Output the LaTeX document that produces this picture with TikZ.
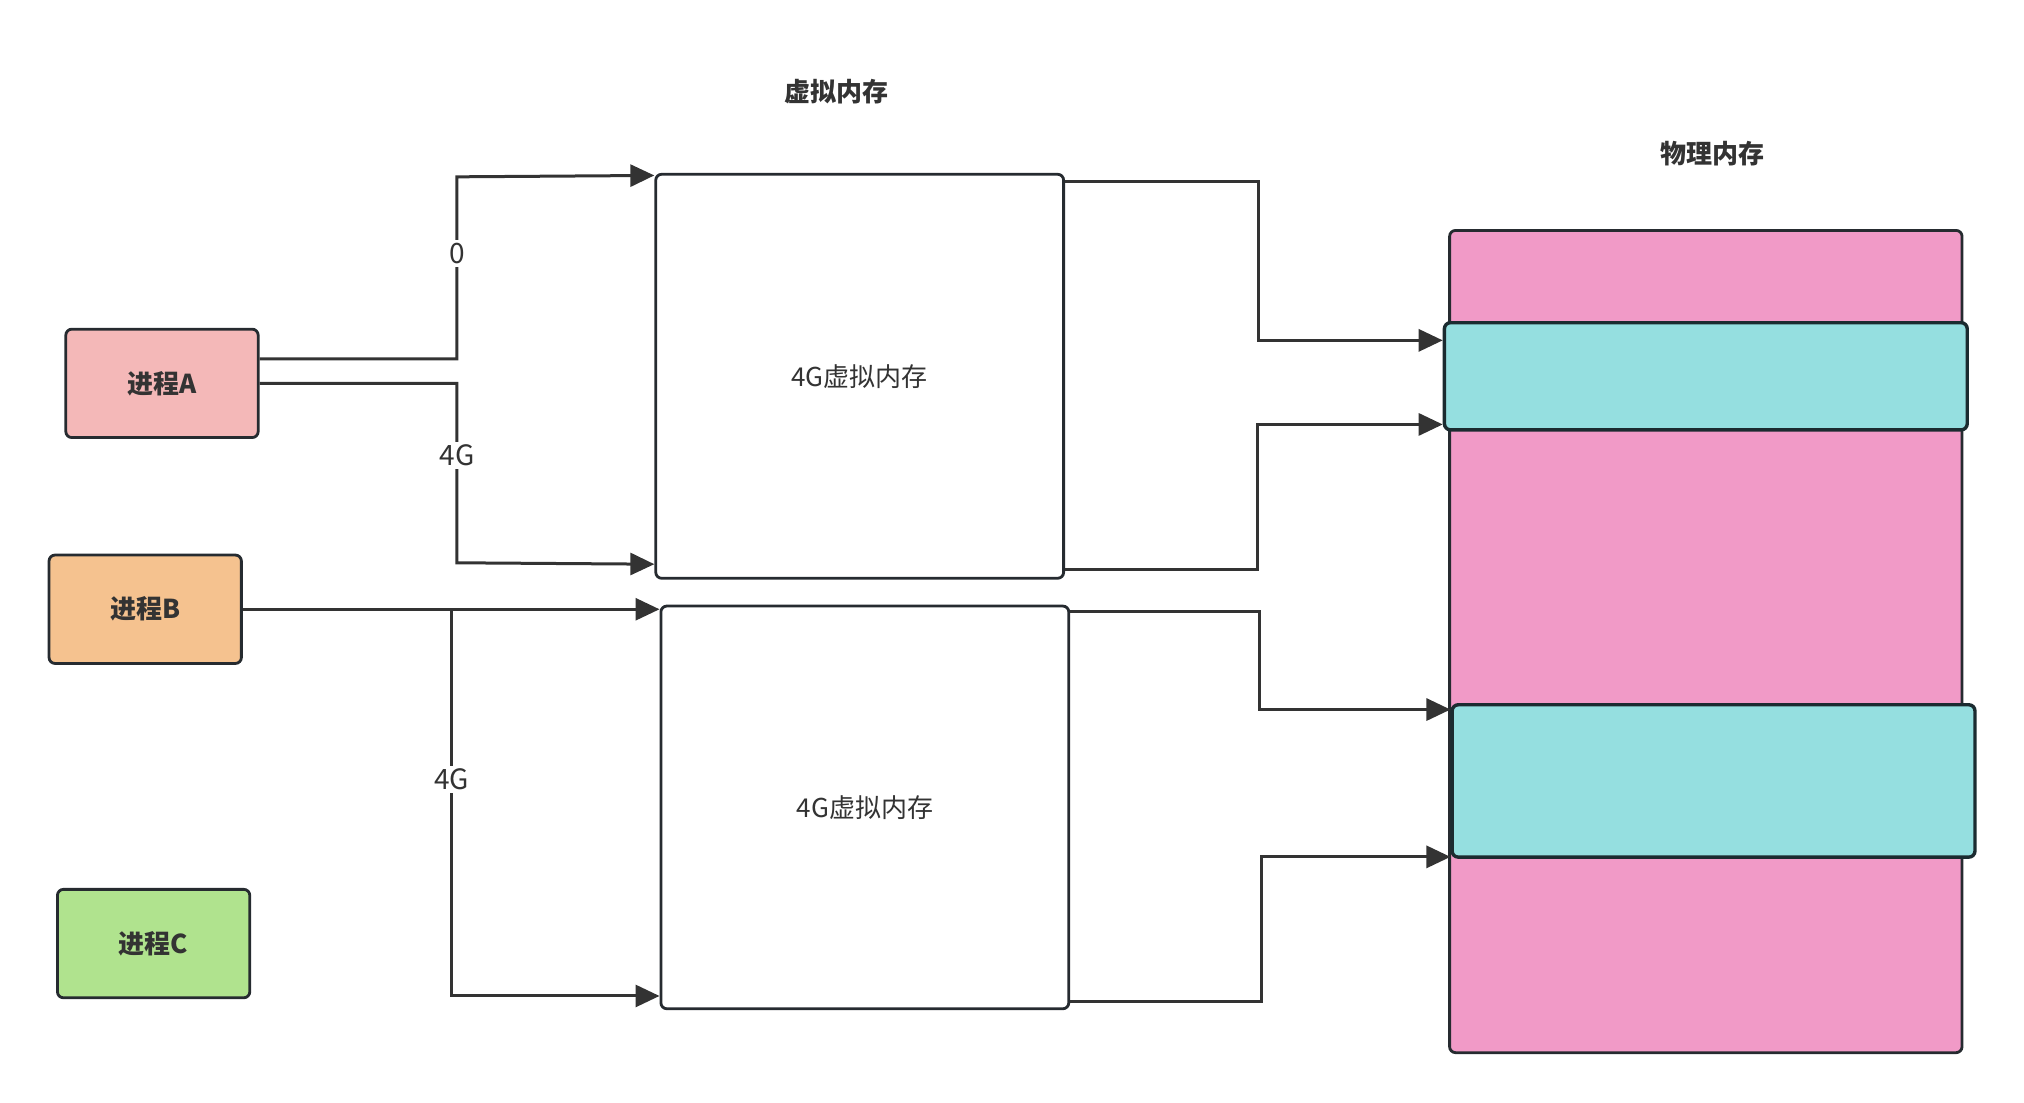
\documentclass[tikz,border=0pt]{standalone}
\usepackage{fontspec}
\setmainfont{Noto Sans CJK SC}
\usetikzlibrary{arrows.meta,positioning}
\newcommand{\unitpx}{0.6454pt}
\newcommand{\labelsize}{\fontsize{13}{15}\selectfont}
\definecolor{linegray}{HTML}{333333}
\definecolor{textgray}{HTML}{333333}
\definecolor{boxline}{HTML}{262B30}
\definecolor{segline}{HTML}{1B2B30}
\definecolor{procpink}{HTML}{F4B8B8}
\definecolor{procorange}{HTML}{F5C28F}
\definecolor{procgreen}{HTML}{B0E38E}
\definecolor{physpink}{HTML}{F19AC7}
\definecolor{segcyan}{HTML}{95DFE0}

\begin{document}
\begin{tikzpicture}[x=\unitpx,y=-\unitpx,font=\labelsize,
	proc/.style={draw=boxline,line width=1.4pt,rounded corners=3pt,minimum width=149*\unitpx,minimum height=84*\unitpx,font=\labelsize\bfseries,text=textgray},
	vmbox/.style={draw=boxline,line width=1.4pt,rounded corners=3pt,fill=white,minimum width=316*\unitpx,minimum height=313*\unitpx,text=textgray},
	segbox/.style={draw=segline,line width=1.7pt,rounded corners=3pt,fill=segcyan,minimum width=405*\unitpx},
	title/.style={font=\labelsize\bfseries,text=textgray},
	link/.style={draw=linegray,line width=1.5pt,-{Triangle[length=12pt,width=11pt]}},
	tag/.style={fill=white,inner sep=1.5pt,text=textgray,font=\fontsize{14}{16}\selectfont}]
	\useasboundingbox (0,0) rectangle (1568,854);

	%processes
	\node[proc,fill=procpink] (procA) at (125.5,297) {进程A};
	\node[proc,fill=procorange] (procB) at (112.5,472) {进程B};
	\node[proc,fill=procgreen] (procC) at (119,731) {进程C};

	%virtual memory
	\node[title] (vmtitle) at (648,71) {虚拟内存};
	\node[vmbox] (vmA) at (666,291.5) {4G虚拟内存};
	\node[vmbox,minimum height=312*\unitpx] (vmB) at (670,625.5) {4G虚拟内存};

	%physical memory
	\node[title] (phystitle) at (1327,119) {物理内存};
	\node[draw=boxline,line width=1.4pt,rounded corners=3pt,fill=physpink,minimum width=397*\unitpx,minimum height=637*\unitpx] (phys) at (1321.5,497) {};
	\node[segbox,minimum height=83*\unitpx] (segA) at (1321.5,291.5) {};
	\node[segbox,minimum height=118*\unitpx] (segB) at (1327.5,605) {};

	%process A
	\draw[link] ([yshift=19*\unitpx]procA.east) -| (354,137) node[tag,pos=0.79] {0} -- ([yshift=-2*\unitpx]vmA.north west);
	\draw[link] (procA.east) -| (354,436) node[tag,pos=0.70] {4G} -- ([yshift=12*\unitpx]vmA.south west);

	%process B
	\coordinate (forkB) at (350,472);
	\draw[link] (procB.east) -- (procB.east -| vmB.west);
	\draw[link] (forkB) |- ([yshift=11*\unitpx]vmB.south west) node[tag,pos=0.22] {4G};

	%virtual to physical
	\draw[link] ([yshift=-6.5*\unitpx]vmA.north east) -- ++(149.5,0) |- ([yshift=-15*\unitpx]segA.north west);
	\draw[link] ([yshift=8*\unitpx]vmA.south east) -- ++(149,0) |- ([yshift=5.5*\unitpx]segA.south west);
	\draw[link] ([yshift=-5.5*\unitpx]vmB.north east) -- ++(147,0) |- ([yshift=-5*\unitpx]segB.north west);
	\draw[link] ([yshift=7*\unitpx]vmB.south east) -- ++(148,0) |- ([yshift=1.5*\unitpx]segB.south west);
\end{tikzpicture}
\end{document}
